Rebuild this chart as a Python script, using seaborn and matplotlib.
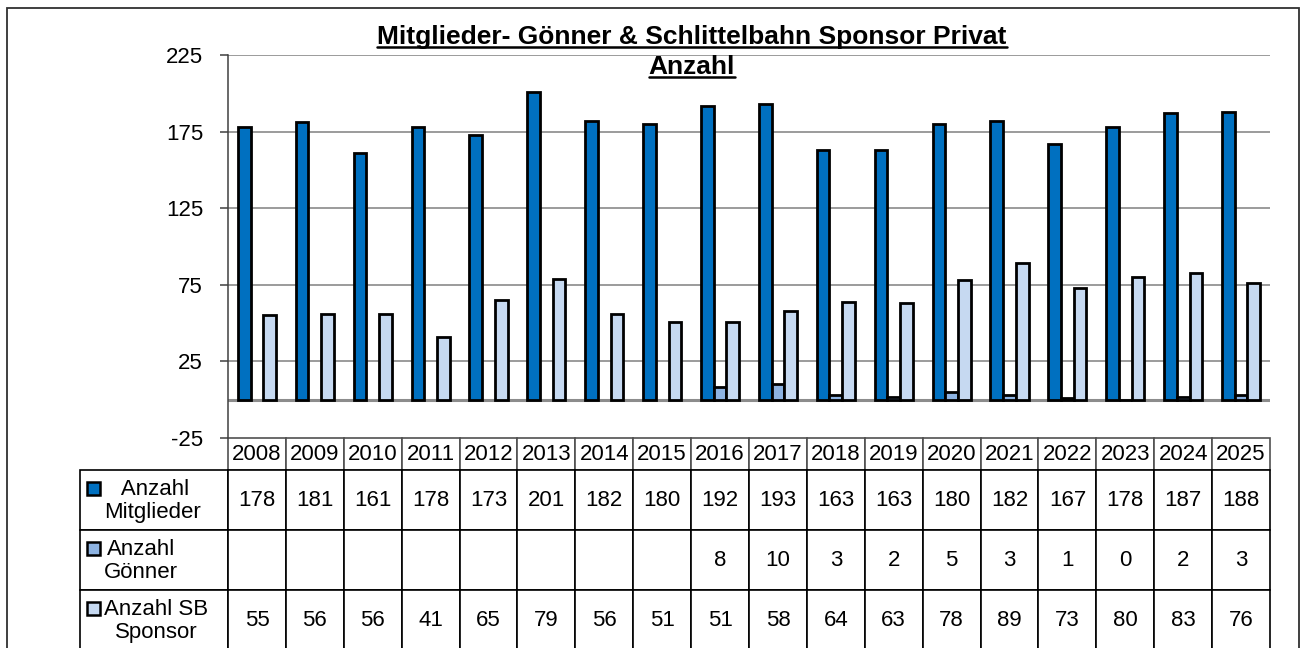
import numpy as np
import pandas as pd
import matplotlib
matplotlib.use('Agg')
import matplotlib.pyplot as plt
from matplotlib.patches import Rectangle
from matplotlib.lines import Line2D
import seaborn as sns

years = [str(y) for y in range(2008, 2026)]
mitglieder = [178, 181, 161, 178, 173, 201, 182, 180, 192, 193, 163, 163, 180, 182, 167, 178, 187, 188]
goenner = [None] * 8 + [8, 10, 3, 2, 5, 3, 1, 0, 2, 3]
sponsor = [55, 56, 56, 41, 65, 79, 56, 51, 51, 58, 64, 63, 78, 89, 73, 80, 83, 76]

series_names = ['Anzahl Mitglieder', 'Anzahl Gönner', 'Anzahl SB Sponsor']
row_labels = [' Anzahl\nMitglieder', 'Anzahl\nGönner', 'Anzahl SB\nSponsor']
colors = ['#0070C0', '#8DB3E2', '#C6D9F1']
y_ticks = [-25, 25, 75, 125, 175, 225]

title_1 = 'Mitglieder- Gönner & Schlittelbahn Sponsor Privat'
title_2 = 'Anzahl'

W, H = 1303, 648

sns.set_style('white')
plt.rcParams['font.family'] = ['Liberation Sans', 'DejaVu Sans']
plt.rcParams['text.color'] = 'black'
plt.rcParams['ytick.labelcolor'] = 'black'
FS = 16


def fx(px):
    return px / W


def fy(py):
    return 1 - py / H


df = pd.DataFrame({
    'Jahr': years * 3,
    'Serie': [series_names[0]] * 18 + [series_names[1]] * 18 + [series_names[2]] * 18,
    'Wert': mitglieder + goenner + sponsor,
})
df['Wert'] = pd.to_numeric(df['Wert'])

fig = plt.figure(figsize=(W / 100, H / 100), dpi=100)
ax_l, ax_r, ax_t, ax_b = 228, 1270, 55, 438
ax = fig.add_axes([fx(ax_l), fy(ax_b), fx(ax_r - ax_l), (ax_b - ax_t) / H])

sns.barplot(data=df, x='Jahr', y='Wert', hue='Serie', hue_order=series_names, order=years,
            palette=colors, width=0.66, edgecolor='black', linewidth=2.0,
            saturation=1, legend=False, ax=ax, zorder=3)

ax.set_xlim(-0.5, len(years) - 0.5)
ax.set_ylim(-25, 225)
ax.set_yticks(y_ticks)
ax.set_yticklabels([str(t) for t in y_ticks], fontsize=FS, color='black')
ax.set_xticks([])
ax.set_xlabel('')
ax.set_ylabel('')
for t in y_ticks[1:]:
    ax.axhline(t, color='#808080', lw=1.1, zorder=1)
ax.axhline(0, color='#8c8c8c', lw=2.2, zorder=2)
for s in ['top', 'right', 'bottom']:
    ax.spines[s].set_visible(False)
ax.spines['left'].set_color('#404040')
ax.spines['left'].set_linewidth(1.1)
ax.tick_params(axis='y', which='both', left=True, length=6, width=1.1, color='#404040', pad=12)

# data table below the plot
tab_l, tab_t = 80, 438
header_h, row_h = 32, 60
label_w = ax_l - tab_l
col_w = (ax_r - ax_l) / len(years)
tab_h = header_h + 3 * row_h

cell_text = [[''] + years]
for vals in [mitglieder, goenner, sponsor]:
    cell_text.append([''] + ['' if v is None else str(v) for v in vals])

ax_w_px = ax_r - ax_l
ax_h_px = ax_b - ax_t
tbl = ax.table(cellText=cell_text, cellLoc='center',
               bbox=[(tab_l - ax_l) / ax_w_px, -tab_h / ax_h_px,
                     (ax_r - tab_l) / ax_w_px, tab_h / ax_h_px])
tbl.auto_set_font_size(False)
tbl.set_fontsize(FS)
for (r, c), cell in tbl.get_celld().items():
    cell.set_width(label_w if c == 0 else col_w)
    cell.set_height(header_h if r == 0 else row_h)
    cell.set_edgecolor('black')
    cell.set_linewidth(1.2)
    cell.set_clip_on(False)
    cell.get_text().set_color('black')
    if r == 0:
        cell.set_edgecolor('#505050')
    if r == 0 and c == 0:
        cell.visible_edges = 'open'

# legend keys and row labels
for i, (lab, col) in enumerate(zip(row_labels, colors)):
    row_top = tab_t + header_h + i * row_h
    cy = row_top + row_h / 2
    fig.patches.append(Rectangle((fx(87), fy(cy - 5)), fx(13), 13 / H,
                                 transform=fig.transFigure, facecolor=col,
                                 edgecolor='black', lw=1.8))
    fig.text(fx(104), fy(cy + 1), lab, ha='left', va='center', multialignment='center',
             fontsize=FS, linespacing=1.15, color='black')

# title, underlined
t1 = fig.text(fx(692), fy(44), title_1, ha='center', va='baseline',
              fontsize=19, fontweight='bold', color='black')
t2 = fig.text(fx(692), fy(74), title_2, ha='center', va='baseline',
              fontsize=19, fontweight='bold', color='black')
fig.canvas.draw()
for t, base in [(t1, 44), (t2, 74)]:
    bb = t.get_window_extent()
    fig.lines.append(Line2D([bb.x0 / W, bb.x1 / W], [fy(base + 3), fy(base + 3)],
                            transform=fig.transFigure, color='black', lw=1.8))

# outer chart frame
fig.patches.append(Rectangle((fx(7), -0.05), fx(1299 - 7), fy(8) + 0.05,
                             transform=fig.transFigure, fill=False,
                             edgecolor='#303030', lw=1.3))

fig.savefig('out.png', dpi=100)
